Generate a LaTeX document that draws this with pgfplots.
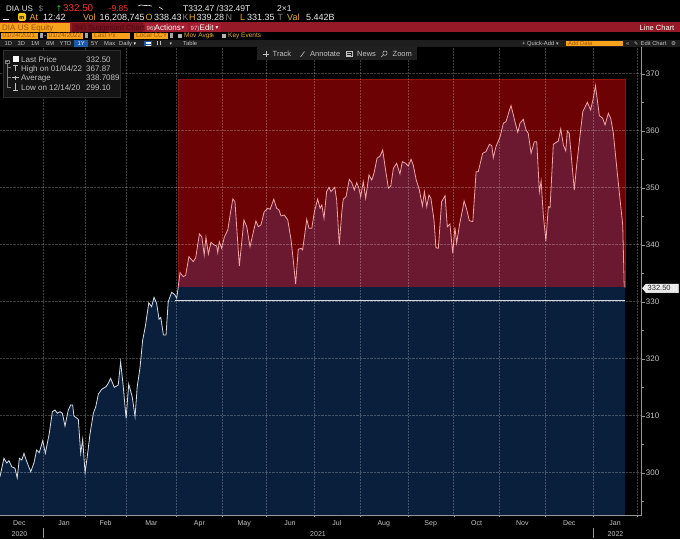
\documentclass[border=0pt]{standalone}
\usepackage{pgfplots}
\pgfplotsset{compat=1.18}
\usepackage{pgfplotstable}
\usepackage{fontspec}
\setmainfont{Liberation Sans}
\newfontfamily\dv{DejaVu Sans}

\definecolor{navy}{RGB}{9,31,60}
\definecolor{rectred}{RGB}{108,2,4}
\definecolor{rectedge}{RGB}{140,20,20}
\definecolor{maroon}{RGB}{106,25,48}
\definecolor{pinkline}{RGB}{240,165,165}
\definecolor{whiteline}{RGB}{215,220,228}
\definecolor{bbred}{RGB}{150,25,40}
\definecolor{bbdark}{RGB}{120,18,30}
\definecolor{bbdarktext}{RGB}{80,10,20}
\definecolor{bbbtn}{RGB}{165,30,50}
\definecolor{bborange}{RGB}{247,162,27}
\definecolor{bbtext}{RGB}{160,85,10}
\definecolor{lbl}{RGB}{235,170,40}
\definecolor{iconyellow}{RGB}{240,200,20}
\definecolor{pricered}{RGB}{255,50,50}
\definecolor{upgreen}{RGB}{30,200,60}
\definecolor{axgray}{RGB}{150,150,150}
\definecolor{txtgray}{RGB}{195,195,195}
\definecolor{rowwhite}{RGB}{235,235,235}
\definecolor{bar5}{RGB}{30,30,30}
\definecolor{trackbg}{RGB}{32,32,32}
\definecolor{btnblue}{RGB}{30,90,170}
\definecolor{legbg}{RGB}{20,20,20}
\definecolor{legedge}{RGB}{48,48,48}
\definecolor{tagtext}{RGB}{40,40,40}

\pgfplotstableread{
d v
-19.9 299.30
-18.1 302.53
-16.8 301.70
-15.8 302.11
-14.5 301.05
-13.0 300.77
-12.0 299.10
-11.0 302.53
-9.9 302.23
-8.9 303.40
-7.6 301.93
-5.8 300.18
-4.3 301.75
-3.1 303.98
-1.9 303.51
-0.3 305.61
0.9 303.40
2.7 306.91
4.1 310.70
5.3 311.00
6.4 310.42
7.6 310.70
8.7 310.42
9.9 308.19
11.4 311.00
12.5 311.88
13.4 311.88
14.0 309.95
16.0 309.37
17.1 303.40
18.0 305.86
19.1 300.00
20.1 302.81
21.4 306.91
22.9 310.42
24.0 311.58
25.2 313.81
26.7 314.63
28.7 315.09
29.7 315.68
30.8 316.56
32.5 314.98
34.3 315.39
35.4 319.47
36.6 315.09
37.9 309.54
39.1 315.56
40.7 313.33
42.0 309.82
43.0 315.09
44.3 318.49
45.5 323.28
46.7 325.61
48.3 329.82
49.6 329.12
50.7 330.77
51.9 329.72
53.0 326.91
53.8 327.26
55.0 324.16
56.2 324.16
57.2 330.00
58.8 331.65
60.3 331.18
61.1 330.60
61.8 332.58
}\leftdata

\pgfplotstableread{
d v
61.8 332.58
62.6 335.09
64.1 334.39
65.2 334.63
66.7 337.90
68.7 337.02
69.8 337.72
71.5 341.88
72.6 341.40
73.7 338.19
74.5 341.30
75.6 338.37
76.8 340.42
78.2 339.95
79.4 339.77
79.9 338.60
80.6 340.53
81.7 339.37
82.9 341.30
84.5 342.58
85.7 345.51
86.8 348.02
87.8 347.54
89.8 336.26
91.9 344.33
93.2 343.16
94.7 339.65
95.9 341.70
97.4 344.16
98.5 343.16
99.7 343.46
101.2 345.79
102.8 346.39
103.9 346.21
105.6 347.97
106.9 346.39
108.0 346.09
108.9 345.04
110.4 345.21
112.0 344.33
113.5 340.83
114.5 337.32
115.6 333.11
116.8 339.19
118.1 339.37
118.8 339.07
120.7 344.46
121.7 342.88
123.0 342.88
124.2 345.79
125.7 348.02
126.8 346.39
127.6 346.97
128.6 344.63
129.8 349.30
130.9 350.07
131.8 349.30
133.5 350.07
134.4 347.84
135.6 339.95
136.7 345.51
137.4 347.97
138.7 348.42
140.2 351.47
141.3 350.88
142.5 349.60
143.6 350.88
144.6 349.90
145.4 348.42
146.6 351.05
147.7 348.14
149.2 352.23
150.5 351.35
151.5 352.53
152.9 355.16
154.3 355.56
155.5 356.61
156.6 353.68
158.1 349.90
159.2 350.30
160.4 353.40
161.9 354.28
163.4 352.40
164.5 354.56
166.0 354.28
167.2 353.81
168.5 354.98
169.5 353.98
170.8 351.47
172.3 349.60
173.7 346.79
174.6 349.30
175.7 346.67
176.7 348.72
177.6 348.14
179.0 344.33
179.9 339.47
181.0 339.37
182.5 347.54
184.1 348.60
185.1 343.16
186.3 343.63
187.6 338.49
188.6 343.05
189.4 340.25
190.6 343.28
192.2 346.39
192.8 347.67
194.0 346.21
195.2 344.21
196.8 344.04
198.3 352.81
199.3 352.81
201.3 356.04
202.8 356.32
204.4 357.61
205.5 357.37
206.2 355.26
207.4 357.19
209.3 358.95
210.8 361.30
212.0 361.58
213.3 363.23
214.3 364.39
215.4 362.75
216.1 361.58
217.4 359.72
218.4 361.30
219.9 362.00
221.2 360.12
222.2 359.54
223.5 356.04
225.0 358.07
226.1 358.07
227.3 349.30
228.1 351.18
229.1 345.21
230.3 340.65
231.4 346.67
232.2 346.49
233.7 357.61
236.0 358.19
237.1 360.30
238.3 357.49
239.4 356.44
240.1 359.95
241.0 359.54
243.3 349.60
244.4 353.98
245.6 358.07
247.2 363.33
249.3 364.98
250.8 363.63
252.0 365.68
253.0 367.87
254.8 362.63
256.3 362.18
257.4 361.00
258.9 363.05
260.0 362.18
261.2 359.54
262.8 353.40
263.9 349.30
265.5 343.46
266.2 332.50
}\rightdata

\newcommand\fa{\fontsize{8.5}{10}\selectfont}
\newcommand\fb{\fontsize{9}{10}\selectfont}
\newcommand\fr{\fontsize{6.5}{7.5}\selectfont}
\newcommand\fc{\fontsize{5.8}{6.5}\selectfont}
\newcommand\fl{\fontsize{8}{9}\selectfont}

\begin{document}
\begin{tikzpicture}
\fill[black] (0pt,0pt) rectangle (680pt,539pt);

\begin{axis}[
  at={(0pt,24pt)}, anchor=south west,
  width=641.7pt, height=468pt, scale only axis,
  xmin=-19.89, xmax=274.2, ymin=292.58, ymax=374.68,
  axis x line*=bottom, axis y line*=right,
  axis line style={draw=axgray, line width=0.6pt},
  axis on top,
  xtick={-11,9.5,28.5,49.5,71.5,92,113,134.5,156,177.5,198.5,219.5,241,262},
  xticklabels={Dec,Jan,Feb,Mar,Apr,May,Jun,Jul,Aug,Sep,Oct,Nov,Dec,Jan},
  minor xtick={0,19,38,61,82,102,124,145,167,188,209,230,252,272},
  xminorgrids=true, xmajorgrids=false,
  ytick={300,310,...,370},
  minor ytick={295,305,...,365},
  ymajorgrids=true,
  grid style={densely dotted, white, opacity=0.24, line width=0.5pt},
  minor grid style={densely dotted, white, opacity=0.24, line width=0.5pt},
  tick align=outside,
  major tick length=3pt, minor tick length=2pt,
  every major x tick/.append style={draw=none},
  every minor x tick/.append style={draw=axgray, opacity=1},
  every y tick/.append style={draw=axgray},
  xticklabel style={font=\fontsize{7}{8}\selectfont, text=txtgray, inner sep=0pt, anchor=base, yshift=-7pt},
  yticklabel style={font=\fontsize{8}{9}\selectfont, text=txtgray, inner sep=0pt, anchor=west, xshift=1pt},
  /pgf/number format/assume math mode=true,
]
% red highlight rectangle
\addplot[fill=rectred, draw=rectedge, line width=0.6pt] coordinates {(61.8,332.5) (61.8,369.07) (266.5,369.07) (266.5,332.5)} -- cycle;
% area under the curve inside the rectangle
\addplot[fill=maroon, draw=none] table[x=d,y=v] {\rightdata} \closedcycle;
% navy base below the rectangle
\addplot[fill=navy, draw=none] coordinates {(61.8,290) (61.8,332.5) (266.5,332.5) (266.5,290)} -- cycle;
% navy area under the early part
\addplot[fill=navy, draw=none] table[x=d,y=v] {\leftdata} \closedcycle;
% horizontal reference line
\addplot[whiteline, line width=0.8pt] coordinates {(60.5,330.3) (266.5,330.3)};
% price lines
\addplot[whiteline, line width=0.8pt] table[x=d,y=v] {\leftdata};
\addplot[pinkline, line width=0.8pt] table[x=d,y=v] {\rightdata};
\end{axis}

\begin{scope}[x=1pt,y=1pt, every node/.style={inner sep=0pt, anchor=base west}]
% ---------- row 1
\node[text=rowwhite, font=\fontsize{8}{9}\selectfont] at (6,527) {DIA US};
\node[text=gray, font=\fontsize{8}{9}\selectfont] at (38.5,527) {\$};
\node[text=upgreen, font=\dv\fontsize{8}{9}\selectfont] at (55.5,527) {↑};
\node[text=pricered, font=\fontsize{9.8}{11}\selectfont] at (63,527) {332.50};
\node[text=pricered, font=\fa] at (108.5,527) {-9.85};
\draw[rowwhite, line width=0.6pt] (138,533) -- (141,534) -- (145,533.4) -- (149,533.7) -- (152,532.8);
\draw[rowwhite, line width=0.6pt] (159,532) -- (163,529.5);
\node[text=rowwhite, font=\fa] at (183,527) {T332.47 /332.49T};
\node[text=rowwhite, font=\fa] at (277,527) {2×1};
% ---------- row 2
\draw[rowwhite, line width=0.8pt] (3,519.3) -- (8.5,519.3);
\fill[iconyellow, rounded corners=1.5pt] (18,518) rectangle (26,526);
\node[text=black, font=\fontsize{5.5}{6}\selectfont\bfseries] at (19.2,519.6) {m};
\node[text=lbl, font=\fb] at (29.5,518.3) {At};
\node[text=rowwhite, font=\fb] at (43,518.3) {12:42};
\node[text=lbl, font=\fb] at (83,518.3) {Vol};
\node[text=rowwhite, font=\fb] at (99.5,518.3) {16,208,745};
\node[text=lbl, font=\fb] at (145.5,518.3) {O};
\node[text=rowwhite, font=\fb] at (154,518.3) {338.43};
\node[text=gray, font=\fb] at (182.5,518.3) {K};
\node[text=lbl, font=\fb] at (189,518.3) {H};
\node[text=rowwhite, font=\fb] at (196.5,518.3) {339.28};
\node[text=gray, font=\fb] at (225.5,518.3) {N};
\node[text=lbl, font=\fb] at (240,518.3) {L};
\node[text=rowwhite, font=\fb] at (247,518.3) {331.35};
\node[text=gray, font=\fb] at (277.5,518.3) {T};
\node[text=lbl, font=\fb] at (287,518.3) {Val};
\node[text=rowwhite, font=\fb] at (306,518.3) {5.442B};
% ---------- row 3
\fill[bbred] (0,506.5) rectangle (680,516.5);
\fill[bborange] (0,506.8) rectangle (70,516.2);
\node[text=bbtext, font=\fl] at (2,508.6) {DIA US Equity};
\fill[bbdark] (72,506.8) rectangle (143,516.2);
\node[text=bbdarktext, font=\fontsize{7.5}{8}\selectfont] at (75,508.8) {94) Suggested Charts};
\fill[bbbtn] (145,507) rectangle (188,516);
\node[text=white!80!bbred, font=\fontsize{6}{7}\selectfont] at (146.5,508.8) {96)};
\node[text=white, font=\fl] at (154.5,508.6) {Actions};
\node[text=white, font=\dv\fontsize{5.5}{6}\selectfont] at (181.5,509.3) {▾};
\fill[bbbtn] (189.5,507) rectangle (221,516);
\node[text=white!80!bbred, font=\fontsize{6}{7}\selectfont] at (190.5,508.8) {97)};
\node[text=white, font=\fl] at (199.5,508.6) {Edit};
\node[text=white, font=\dv\fontsize{5.5}{6}\selectfont] at (215.5,509.3) {▾};
\node[text=white, font=\fontsize{7.5}{8}\selectfont] at (639.5,508.8) {Line Chart};
% ---------- row 4
\fill[bborange] (1,500.3) rectangle (38,506.2);
\fill[gray!70] (39.5,500.8) rectangle (43,505.8);
\node[text=rowwhite, font=\fr] at (44,501.4) {-};
\fill[bborange] (47,500.3) rectangle (83,506.2);
\fill[gray!70] (84.5,500.8) rectangle (88,505.8);
\fill[bborange] (92,500.3) rectangle (130,506.2);
\fill[bborange] (134,500.3) rectangle (168,506.2);
\fill[gray!70] (169.5,500.8) rectangle (173,505.8);
\node[text=bbtext, font=\fr] at (2.5,501.4) {01/24/2021};
\node[text=bbtext, font=\fr] at (48.5,501.4) {01/24/2022};
\node[text=bbtext, font=\fr] at (94,501.4) {Last Px};
\node[text=bbtext, font=\fr] at (136,501.4) {Local CCY};
\fill[gray!60] (178,501.3) rectangle (182,505.3);
\node[text=lbl, font=\fr] at (184,501.4) {Mov Avgs};
\node[text=lbl, font=\dv\fontsize{5.5}{6}\selectfont] at (210,501.4) {✎};
\fill[gray!60] (222,501.3) rectangle (226,505.3);
\node[text=lbl, font=\fr] at (228,501.4) {Key Events};
% ---------- row 5
\fill[bar5] (0,491.7) rectangle (680,499.2);
\node[text=txtgray, font=\fc] at (4.5,493.6) {1D};
\node[text=txtgray, font=\fc] at (17.5,493.6) {3D};
\node[text=txtgray, font=\fc] at (31,493.6) {1M};
\node[text=txtgray, font=\fc] at (46,493.6) {6M};
\node[text=txtgray, font=\fc] at (59.5,493.6) {YTD};
\fill[btnblue] (73.5,492.2) rectangle (87.5,498.7);
\node[text=white, font=\fc] at (77.5,493.6) {1Y};
\node[text=txtgray, font=\fc] at (91,493.6) {5Y};
\node[text=txtgray, font=\fc] at (104,493.6) {Max};
\node[text=txtgray, font=\fc] at (119,493.6) {Daily};
\node[text=white, font=\dv\fontsize{5}{6}\selectfont] at (133.5,493.8) {▾};
\fill[btnblue] (144,492.5) rectangle (152,498.4);
\draw[white, line width=0.4pt] (145.5,494.2) -- (150.5,494.2) (145.5,495.5) -- (150.5,495.5) (145.5,496.8) -- (150.5,496.8);
\draw[txtgray, line width=0.5pt] (157.5,493.5) -- (157.5,497.5) (160,493.5) -- (160,497.5);
\node[text=txtgray, font=\dv\fontsize{5}{6}\selectfont] at (169.5,493.8) {▾};
\node[text=txtgray, font=\fc] at (183,493.6) {Table};
\node[text=txtgray, font=\fc] at (522,493.6) {+ Quick-Add};
\node[text=txtgray, font=\dv\fontsize{5}{6}\selectfont] at (556,493.8) {▾};
\fill[bborange] (566,492.5) rectangle (623,498.4);
\node[text=bbtext, font=\fc] at (568,493.6) {Add Data};
\node[text=txtgray, font=\fc] at (626,493.6) {«};
\node[text=txtgray, font=\dv\fontsize{5}{6}\selectfont] at (634,493.6) {✎};
\node[text=txtgray, font=\fc] at (640.5,493.6) {Edit Chart};
\node[text=txtgray, font=\dv\fontsize{5.5}{6}\selectfont] at (671,493.4) {⚙};
% ---------- legend box
\filldraw[fill=legbg, draw=legedge, line width=0.5pt] (3,442) rectangle (120,489);
\draw[gray, line width=0.4pt] (5.6,475.8) rectangle (9,479.2);
\draw[gray, line width=0.4pt] (6.3,477.5) -- (8.3,477.5);
\fill[white] (12.7,476.6) rectangle (19.2,483.1);
\draw[gray, line width=0.4pt] (7.3,475.8) -- (7.3,451.7);
\draw[gray, line width=0.4pt] (7.3,471.3) -- (11,471.3) (7.3,461.3) -- (11,461.3) (7.3,451.7) -- (11,451.7);
\draw[txtgray, line width=0.5pt] (13,474) -- (17.5,474) (15.25,474) -- (15.25,467.5);
\draw[txtgray, line width=0.5pt] (12,461.3) -- (18.5,461.3) (15.25,459.3) -- (15.25,463.3);
\draw[txtgray, line width=0.5pt] (15.25,455.5) -- (15.25,449) (13,449) -- (17.5,449);
\node[text=txtgray, font=\fl] at (21,476.3) {Last Price};
\node[text=txtgray, font=\fl] at (86,476.3) {332.50};
\node[text=txtgray, font=\fl] at (21,467.3) {High on 01/04/22};
\node[text=txtgray, font=\fl] at (86,467.3) {367.87};
\node[text=txtgray, font=\fl] at (21,458) {Average};
\node[text=txtgray, font=\fl] at (86,458) {338.7089};
\node[text=txtgray, font=\fl] at (21,448.5) {Low on 12/14/20};
\node[text=txtgray, font=\fl] at (86,448.5) {299.10};
% ---------- track bar
\fill[trackbg] (257,479) rectangle (417,491.7);
\draw[txtgray, line width=0.5pt] (263,485) -- (269,485) (266,482) -- (266,488);
\node[text=txtgray, font=\fontsize{7.5}{8}\selectfont] at (272.5,482) {Track};
\draw[txtgray, line width=0.6pt] (300.5,482) -- (304.5,487.5);
\node[text=txtgray, font=\fontsize{7.5}{8}\selectfont] at (310,482) {Annotate};
\draw[txtgray, line width=0.4pt] (346,482.5) rectangle (352,487.5);
\draw[txtgray, line width=0.4pt] (347.2,484) -- (350.8,484) (347.2,486) -- (350.8,486);
\node[text=txtgray, font=\fontsize{7.5}{8}\selectfont] at (357,482) {News};
\draw[txtgray, line width=0.5pt] (385,485.8) circle (2.2);
\draw[txtgray, line width=0.6pt] (383.4,484.2) -- (381.2,482);
\node[text=txtgray, font=\fontsize{7.5}{8}\selectfont] at (392.5,482) {Zoom};
% ---------- last price tag
\filldraw[fill=white!92!black, draw=white] (642.5,250.7) -- (646,255) -- (678.5,255) -- (678.5,246.4) -- (646,246.4) -- cycle;
\node[text=tagtext, font=\fontsize{7.5}{8}\selectfont] at (647.5,248) {332.50};
% ---------- year row
\draw[axgray, line width=0.5pt] (43.4,1) -- (43.4,11) (593.3,1) -- (593.3,11);
\node[anchor=base, text=txtgray, font=\fontsize{7}{8}\selectfont] at (19.5,3) {2020};
\node[anchor=base, text=txtgray, font=\fontsize{7}{8}\selectfont] at (318,3) {2021};
\node[anchor=base, text=txtgray, font=\fontsize{7}{8}\selectfont] at (615.5,3) {2022};
\end{scope}

\pgfresetboundingbox
\useasboundingbox (0pt,0pt) rectangle (680pt,539pt);
\end{tikzpicture}
\end{document}
